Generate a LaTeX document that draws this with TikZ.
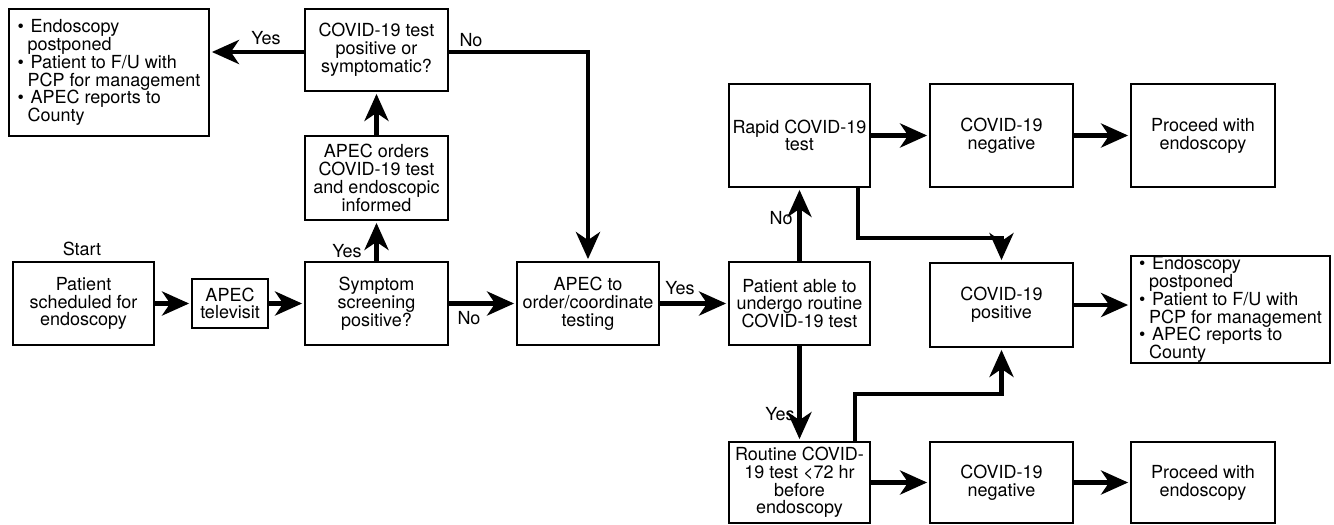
\documentclass[tikz,border=0pt]{standalone}
\usepackage{fontspec}
\setmainfont{TeX Gyre Heros}
\usetikzlibrary{arrows.meta,calc}
\newcommand\bulitem[1]{\makebox[13pt][l]{•}#1}
\newcommand\bulcont[1]{\hspace*{10pt}#1}
\begin{document}
\begin{tikzpicture}[x=1pt,y=-1pt,
  box/.style={draw=black,line width=1.8pt,minimum width=#1,inner sep=0pt,align=center,
    font=\fontsize{18}{17.8}\selectfont},
  lbl/.style={font=\fontsize{18}{17.8}\selectfont,inner sep=0pt},
  arr/.style={line width=4.5pt,-{Stealth[length=27pt,width=24pt,inset=8pt]},shorten >=2pt}]
\useasboundingbox (0,0) rectangle (1334,525);
% nodes
\node[box=200pt,minimum height=127pt,align=left] (res1) at (109,72.5)
  {\bulitem{Endoscopy}\\\bulcont{postponed}\\\bulitem{Patient to F/U with}\\\bulcont{PCP for management}\\\bulitem{APEC reports to}\\\bulcont{County}};
\node[box=143pt,minimum height=82pt] (q1) at (376.5,50) {COVID-19 test\\positive or\\symptomatic?};
\node[box=143pt,minimum height=84pt] (ord) at (376.5,178) {APEC orders\\COVID-19 test\\and endoscopic\\informed};
\node[box=141pt,minimum height=83pt] (start) at (83.5,303.5) {Patient\\scheduled for\\endoscopy};
\node[box=76pt,minimum height=49pt] (tv) at (230,303.5) {APEC\\televisit};
\node[box=143pt,minimum height=83pt] (sym) at (376.5,303.5) {Symptom\\screening\\positive?};
\node[box=142pt,minimum height=83pt] (apec) at (588,303.5) {APEC to\\order/coordinate\\testing};
\node[box=141pt,minimum height=83pt] (able) at (799.5,303.5) {Patient able to\\undergo routine\\COVID-19 test};
\node[box=141pt,minimum height=103pt] (rapid) at (799.5,135.5) {Rapid COVID-19\\test};
\node[box=143pt,minimum height=103pt] (neg1) at (1001.5,135.5) {COVID-19\\negative};
\node[box=144pt,minimum height=103pt] (proc1) at (1203,135.5) {Proceed with\\endoscopy};
\node[box=143pt,minimum height=84pt] (pos) at (1001.5,305) {COVID-19\\positive};
\node[box=199pt,minimum height=107pt,align=left] (res2) at (1230.5,309.5)
  {\bulitem{Endoscopy}\\\bulcont{postponed}\\\bulitem{Patient to F/U with}\\\bulcont{PCP for management}\\\bulitem{APEC reports to}\\\bulcont{County}};
\node[box=141pt,minimum height=81pt] (routine) at (799.5,482.5) {Routine COVID-\\19 test <72 hr\\before\\endoscopy};
\node[box=143pt,minimum height=81pt] (neg2) at (1001.5,482.5) {COVID-19\\negative};
\node[box=144pt,minimum height=81pt] (proc2) at (1203,482.5) {Proceed with\\endoscopy};
% coordinates for bends
\coordinate (q1out) at (448,52);
\coordinate (rapidout) at (858,187);
\coordinate (routout) at (855,442);
% labels
\node[lbl] (lstart) at (82,249) {Start};
\node[lbl] (l1) at (266,38) {Yes};
\node[lbl] (l2) at (471,40) {No};
\node[lbl] (l3) at (347,251) {Yes};
\node[lbl] (l4) at (469,318) {No};
\node[lbl] (l5) at (680,288) {Yes};
\node[lbl] (l6) at (781,218) {No};
\node[lbl] (l7) at (780,414) {Yes};
% connectors
\draw[arr] (q1.west |- q1out) -- (q1out -| res1.east);
\draw[arr] (q1.east |- q1out) -| (apec.north);
\draw[arr] (ord.north) -- (q1.south);
\draw[arr] (sym.north) -- (ord.south);
\draw[arr] (start.east) -- (tv.west);
\draw[arr] (tv.east) -- (sym.west);
\draw[arr] (sym.east) -- (apec.west);
\draw[arr] (apec.east) -- (able.west);
\draw[arr] (able.north) -- (rapid.south);
\draw[arr] (able.south) -- (routine.north);
\draw[arr] (rapid.east) -- (neg1.west);
\draw[arr] (neg1.east) -- (proc1.west);
\draw[arr] (rapidout) -- ++(0,51) -| (pos.north);
\draw[arr] (routout) -- ++(0,-48) -| (pos.south);
\draw[arr] (pos.east) -- (pos.east -| res2.west);
\draw[arr] (routine.east) -- (neg2.west);
\draw[arr] (neg2.east) -- (proc2.west);
\end{tikzpicture}
\end{document}
